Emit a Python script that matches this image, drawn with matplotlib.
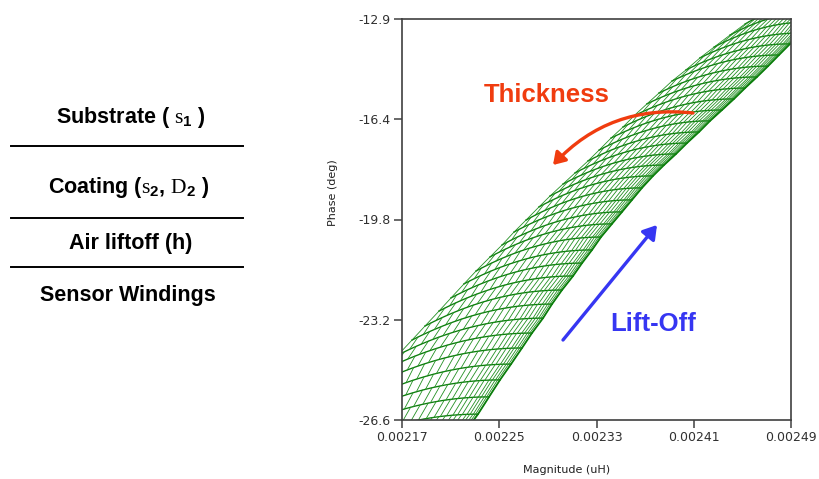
import numpy as np
import matplotlib.pyplot as plt
from matplotlib.patches import FancyArrowPatch

plt.rcParams['font.family'] = ['DejaVu Sans']
plt.rcParams['mathtext.fontset'] = 'custom'
plt.rcParams['mathtext.rm'] = 'Liberation Serif'
plt.rcParams['mathtext.bf'] = 'Liberation Sans:bold'

# lift-off curves (constant lift-off, thickness varies along the curve)
# left end = thickest coating, right end = thinnest coating; magnitude in 1e-5 uH
arc_left_mag = [207.79, 209.10, 210.34, 211.49, 212.56, 213.46, 214.45, 215.52, 216.67,
                217.82, 218.89, 220.04, 221.03, 222.10, 223.09, 224.24, 225.23, 226.21,
                227.20, 228.27, 229.17, 230.24, 231.23, 232.30, 233.21, 234.19, 235.18,
                236.08, 237.15, 238.14, 239.21, 240.36, 241.51, 242.67, 243.98, 245.22]
arc_left_phase = [-29.06, -28.41, -27.80, -27.18, -26.57, -26.02, -25.44, -24.89, -24.38,
                  -23.87, -23.39, -22.88, -22.43, -21.95, -21.51, -21.03, -20.62, -20.18,
                  -19.77, -19.32, -18.95, -18.54, -18.16, -17.75, -17.38, -16.97, -16.59,
                  -16.21, -15.80, -15.43, -15.02, -14.64, -14.23, -13.86, -13.45, -13.07]
arc_right_mag = [221.11, 222.18, 223.25, 224.16, 225.06, 225.97, 226.87, 227.69, 228.60,
                 229.34, 230.16, 231.07, 231.81, 232.63, 233.37, 234.27, 235.10, 235.92,
                 236.74, 237.65, 238.55, 239.54, 240.44, 241.43, 242.34, 243.32, 244.31,
                 245.22, 246.20, 247.11, 248.01, 248.92, 249.74, 250.48, 251.30, 252.12]
arc_right_phase = [-27.63, -27.01, -26.40, -25.81, -25.23, -24.69, -24.14, -23.63, -23.12,
                   -22.64, -22.16, -21.68, -21.24, -20.79, -20.35, -19.90, -19.49, -19.08,
                   -18.67, -18.26, -17.89, -17.51, -17.14, -16.76, -16.38, -16.01, -15.63,
                   -15.26, -14.88, -14.51, -14.13, -13.75, -13.38, -13.00, -12.63, -12.25]
# position of constant-thickness lines across the lift-off curves
thick_frac = [0.0, 0.08, 0.16, 0.24, 0.31, 0.38, 0.45, 0.51, 0.57, 0.62, 0.67, 0.72,
              0.76, 0.80, 0.84, 0.87, 0.90, 0.93, 0.95, 0.97, 0.985, 1.0]

xticks_lbl = ['0.00217', '0.00225', '0.00233', '0.00241', '0.00249']
yticks_lbl = ['-26.6', '-23.2', '-19.8', '-16.4', '-12.9']
xlim = (0.00217, 0.00249)
ylim = (-26.6, -12.9)

layers = ['Substrate ( $\\mathrm{s}_{\\mathbf{1}}$ )',
          'Coating ($\\mathrm{s}_{\\mathbf{2}}$, $\\mathrm{D}_{\\mathbf{2}}$ )',
          'Air liftoff (h)',
          'Sensor Windings']

W, H = 820, 479
fig = plt.figure(figsize=(W / 100, H / 100), dpi=100)

def fx(px):
    return px / W

def fy(py):
    return 1 - py / H

ax = fig.add_axes([fx(402), fy(420), fx(791) - fx(402), fy(19) - fy(420)])

lm = np.array(arc_left_mag) * 1e-5
rm = np.array(arc_right_mag) * 1e-5
lp = np.array(arc_left_phase)
rp = np.array(arc_right_phase)

def node(i, s):
    s = np.clip(s, 0, 1)
    return lm[i] + (rm[i] - lm[i]) * s, lp[i] + (rp[i] - lp[i]) * (1 - (1 - s) ** 2)

arc_col = '#0b7d0b'
hatch_col = '#239023'
sf = np.linspace(0, 1, 60)
for i in range(len(lm)):
    x, y = node(i, sf)
    ax.plot(x, y, color=arc_col, lw=0.95)

# constant-thickness strokes between neighbouring lift-off curves
for i in range(len(lm) - 1):
    for s in thick_frac:
        x0, y0 = node(i, s)
        x1, y1 = node(i + 1, s - 0.04 * (1 - s))
        ax.plot([x0, x1], [y0, y1], color=hatch_col, lw=0.6)
x, y = node(np.arange(len(lm)), 1.0)
ax.plot(x, y, color=arc_col, lw=1.3)

ax.set_xlim(*xlim)
ax.set_ylim(*ylim)
ax.set_xticks(np.linspace(xlim[0], xlim[1], 5))
ax.set_xticklabels(xticks_lbl)
ax.set_yticks(np.linspace(ylim[0], ylim[1], 5))
ax.set_yticklabels(yticks_lbl)
ax.tick_params(direction='out', length=6, width=1.1, color='#404040',
               labelsize=9, labelcolor='#303030', pad=2)
for sp in ax.spines.values():
    sp.set_color('#404040')
    sp.set_linewidth(1.2)

fig.text(fx(567), fy(470), 'Magnitude (uH)', fontsize=8, ha='center', va='center',
         color='#202020')
fig.text(fx(333), fy(193), 'Phase (deg)', fontsize=8, ha='center', va='center',
         rotation=90, color='#202020')

# layer stack on the left
lay_y = [118, 187, 243, 296]
lay_x = [131, 129, 131, 128]
for t, x, y in zip(layers, lay_x, lay_y):
    fig.text(fx(x), fy(y), t, fontsize=15.5, fontweight='bold', family='Liberation Sans',
             ha='center', va='center')
for y in [146, 218, 267]:
    fig.add_artist(plt.Line2D([fx(11), fx(243)], [fy(y), fy(y)], color='black', lw=1.4))

# annotation arrows
red = '#f03c0f'
blue = '#3636f2'
fig.text(fx(547), fy(95), 'Thickness', color=red, fontsize=18.5, fontweight='bold',
         family='Liberation Sans', ha='center', va='center')
fig.text(fx(653), fy(324), 'Lift-Off', color=blue, fontsize=18.5, fontweight='bold',
         family='Liberation Sans', ha='center', va='center')
fig.add_artist(FancyArrowPatch((fx(693), fy(113)), (fx(553), fy(165)),
                               transform=fig.transFigure, connectionstyle='arc3,rad=0.25',
                               arrowstyle='-|>,head_length=7,head_width=4.5',
                               color=red, lw=2.4, shrinkA=0, shrinkB=0))
fig.add_artist(FancyArrowPatch((fx(563), fy(340)), (fx(657), fy(225)),
                               transform=fig.transFigure,
                               arrowstyle='-|>,head_length=8,head_width=5',
                               color=blue, lw=2.4, shrinkA=0, shrinkB=0))

fig.savefig('out.png', dpi=100)
